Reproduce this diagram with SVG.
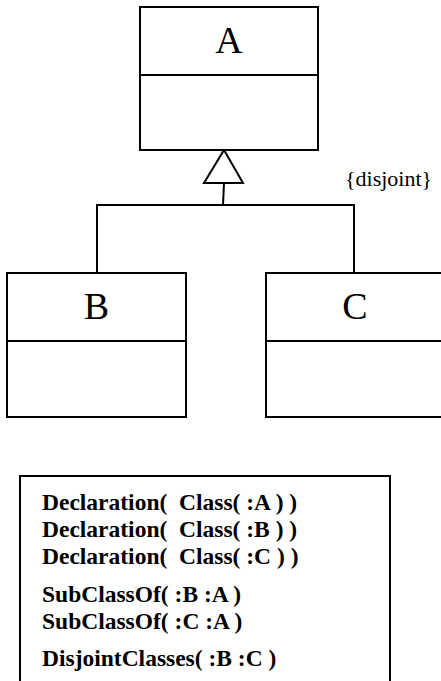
<svg xmlns="http://www.w3.org/2000/svg" width="441" height="681" viewBox="0 0 441 681">
  <style>
    .box { fill: #ffffff; stroke: #000000; stroke-width: 2; }
    .line { fill: none; stroke: #000000; stroke-width: 2; }
    text { font-family: 'Liberation Serif', 'Times New Roman', 'DejaVu Serif', serif; fill: #000000; }
    .name { font-size: 38px; text-anchor: middle; }
    .note { font-size: 22px; }
    .axiom { font-size: 23.5px; font-weight: bold; white-space: pre; }
  </style>
  <rect width="441" height="681" fill="#ffffff"/>

  <!-- generalization connectors -->
  <g id="connectors">
    <line class="line" x1="97" y1="205" x2="354" y2="205"/>
    <line class="line" x1="97" y1="204" x2="97" y2="273"/>
    <line class="line" x1="354" y1="204" x2="354" y2="273"/>
    <line class="line" x1="223" y1="205" x2="224" y2="183"/>
    <polygon class="box" points="224,150 243,183 204,183"/>
    <text class="note" x="345" y="186" font-family="Liberation Serif, serif">{disjoint}</text>
  </g>

  <g id="class-A">
    <rect class="box" x="140" y="7" width="178" height="143"/>
    <line class="line" x1="140" y1="75" x2="318" y2="75"/>
    <text class="name" x="229" y="53" font-family="Liberation Serif, serif">A</text>
  </g>

  <g id="class-B">
    <rect class="box" x="7" y="273" width="179" height="144"/>
    <line class="line" x1="7" y1="341" x2="186" y2="341"/>
    <text class="name" x="96.5" y="319" font-family="Liberation Serif, serif">B</text>
  </g>

  <g id="class-C">
    <rect class="box" x="266" y="273" width="179" height="144"/>
    <line class="line" x1="266" y1="341" x2="445" y2="341"/>
    <text class="name" x="355" y="319" font-family="Liberation Serif, serif">C</text>
  </g>

  <!-- functional-syntax axioms -->
  <g id="axioms">
    <rect class="box" x="20" y="476" width="370" height="220"/>
    <text class="axiom" x="42" y="510">Declaration(  Class( :A ) )</text>
    <text class="axiom" x="42" y="537">Declaration(  Class( :B ) )</text>
    <text class="axiom" x="42" y="564">Declaration(  Class( :C ) )</text>
    <text class="axiom" x="42" y="602">SubClassOf( :B :A )</text>
    <text class="axiom" x="42" y="629">SubClassOf( :C :A )</text>
    <text class="axiom" x="42" y="666">DisjointClasses( :B :C )</text>
  </g>
</svg>
